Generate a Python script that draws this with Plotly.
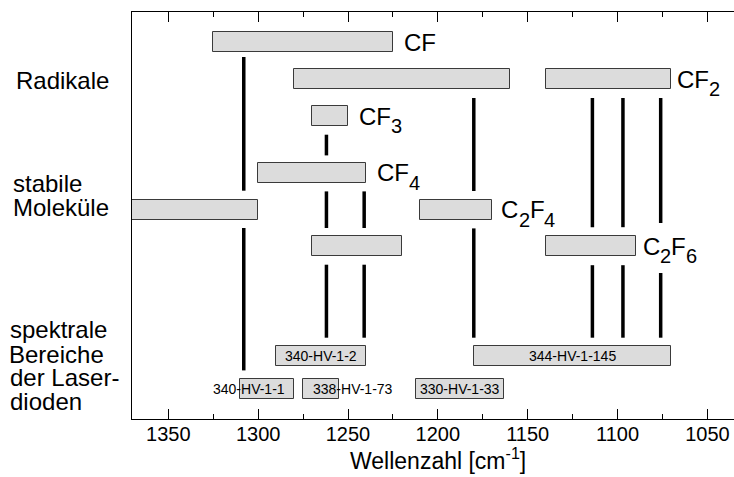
import plotly.graph_objects as go

FONT = "Liberation Sans, Arial, Helvetica, sans-serif"

# ---- data -------------------------------------------------------------
# absorption bands (wavenumber ranges in cm^-1) and the species row they belong to
band_row   = ["CF", "CF2", "CF2", "CF3", "CF4", "C2F4", "C2F4", "C2F6", "C2F6"]
band_start = [1325, 1280, 1140, 1270, 1300, 1372, 1210, 1270, 1140]
band_end   = [1225, 1160, 1070, 1250, 1240, 1300, 1170, 1220, 1090]

# spectral coverage of the laser diodes
laser_names = ["340-HV-1-2", "344-HV-1-145", "340-HV-1-1", "338-HV-1-73", "330-HV-1-33"]
laser_row   = ["laserA", "laserA", "laserB", "laserB", "laserB"]
laser_start = [1290, 1180, 1310, 1275, 1212]
laser_end   = [1240, 1070, 1280, 1255, 1163]

# selected absorption lines (cm^-1)
line_pos = [1308, 1262, 1241, 1180, 1114, 1097, 1076]

# x tick labels
tick_vals = [1350, 1300, 1250, 1200, 1150, 1100, 1050]

# ---- layout helpers ----------------------------------------------------
# vertical track centres (axis units from top of the plot area)
row_y = {"CF": 30.4, "CF2": 67.0, "CF3": 104.0, "CF4": 160.7,
         "C2F4": 197.5, "C2F6": 234.0, "laserA": 344.4, "laserB": 376.8}
BAR_H = 20

# vertical extent of the drawn line segments (gaps around the bands)
line_segments = {
    1308: [(45.0, 178.7), (216.0, 358.4)],
    1262: [(122.7, 143.4), (179.4, 216.0), (252.7, 325.7)],
    1241: [(179.4, 216.0), (252.7, 325.7)],
    1180: [(86.0, 179.0), (216.4, 325.7)],
    1114: [(86.0, 215.2), (253.2, 325.7)],
    1097: [(86.0, 215.2), (253.2, 325.7)],
    1076: [(86.0, 211.0), (261.0, 325.7)],
}

fig = go.Figure()

# species bands
fig.add_trace(go.Bar(
    orientation="h",
    y=[row_y[r] for r in band_row],
    base=band_start,
    x=[e - s for s, e in zip(band_start, band_end)],
    width=[BAR_H] * len(band_row),
    marker=dict(color="#dcdcdc", line=dict(color="#3a3a3a", width=1)),
    showlegend=False, hoverinfo="skip",
))

# laser diode ranges
fig.add_trace(go.Bar(
    orientation="h",
    y=[row_y[r] for r in laser_row],
    base=laser_start,
    x=[e - s for s, e in zip(laser_start, laser_end)],
    width=[BAR_H] * len(laser_row),
    marker=dict(color="#dcdcdc", line=dict(color="#3a3a3a", width=1)),
    showlegend=False, hoverinfo="skip",
))

# absorption lines
lx, ly = [], []
for p in line_pos:
    for y0, y1 in line_segments[p]:
        lx += [p, p, None]
        ly += [y0, y1, None]
fig.add_trace(go.Scatter(x=lx, y=ly, mode="lines",
                         line=dict(color="black", width=3.5),
                         showlegend=False, hoverinfo="skip"))

# ---- species labels with subscripts ------------------------------------
MAIN_SIZE, SUB_SIZE = 24, 20
ADV = {"C": 0.722, "F": 0.611, "2": 0.556, "3": 0.556, "4": 0.556, "6": 0.556}

formulas = [
    ([("CF", False)], "CF", 1225, 10.8),
    ([("CF", False), ("2", True)], "CF2", 1070, 5.5),
    ([("CF", False), ("3", True)], "CF3", 1250, 11.0),
    ([("CF", False), ("4", True)], "CF4", 1240, 11.0),
    ([("C", False), ("2", True), ("F", False), ("4", True)], "C2F4", 1170, 9.5),
    ([("C", False), ("2", True), ("F", False), ("6", True)], "C2F6", 1090, 7.0),
]
for pieces, row, x_end, gap in formulas:
    off = gap
    for txt, sub in pieces:
        size = SUB_SIZE if sub else MAIN_SIZE
        fig.add_annotation(
            x=x_end, y=row_y[row], xref="x", yref="y", text=txt,
            showarrow=False, xanchor="left", yanchor="middle",
            xshift=off, yshift=-10 if sub else 0,
            borderpad=0, borderwidth=0,
            font=dict(family=FONT, size=size, color="black"))
        off += sum(ADV[c] for c in txt) * size

# laser diode names
label_x = [None, None, 1304.9, 1247.0, None]
for name, row, s, e, lxp in zip(laser_names, laser_row, laser_start, laser_end, label_x):
    fig.add_annotation(
        x=(s + e) / 2 if lxp is None else lxp, y=row_y[row],
        xref="x", yref="y", text=name, showarrow=False,
        xanchor="center", yanchor="middle", borderpad=0, borderwidth=0,
        font=dict(family=FONT, size=14, color="black"))

# category captions on the left
PLOT_L, PLOT_W = 132, 602
captions = [
    ("Radikale", 16.0, 68.4),
    ("stabile", 13.5, 171.0),
    ("Moleküle", 13.5, 195.0),
    ("spektrale", 10.0, 317.4),
    ("Bereiche", 9.0, 342.0),
    ("der Laser-", 9.5, 365.8),
    ("dioden", 9.5, 389.8),
]
for txt, px, yv in captions:
    fig.add_annotation(
        x=(px - PLOT_L) / PLOT_W, y=yv, xref="paper", yref="y",
        text=txt, showarrow=False, xanchor="left", yanchor="middle",
        borderpad=0, borderwidth=0,
        font=dict(family=FONT, size=24, color="black"))

# x axis title
fig.add_annotation(
    x=(438 - PLOT_L) / PLOT_W, y=(419 - 474) / 407, xref="paper", yref="paper",
    text="Wellenzahl [cm<sup>-1</sup>]", showarrow=False,
    xanchor="center", yanchor="bottom", borderpad=0, borderwidth=0,
    font=dict(family=FONT, size=23, color="black"))

fig.update_layout(
    width=734, height=477,
    margin=dict(l=132, r=0, t=12, b=58),
    plot_bgcolor="white", paper_bgcolor="white",
    barmode="overlay", bargap=0,
    xaxis=dict(
        range=[1370.2, 1035.2], tickvals=tick_vals,
        ticktext=[str(v) for v in tick_vals],
        ticks="inside", ticklen=10, tickwidth=1, tickcolor="black",
        showline=True, linecolor="black", linewidth=1, mirror="ticks",
        showgrid=False, zeroline=False, ticklabelstandoff=-3,
        tickfont=dict(family=FONT, size=20, color="black"),
        minor=dict(ticks="inside", ticklen=5, tickwidth=1, tickcolor="black",
                   dtick=25, tick0=1025, showgrid=False),
    ),
    yaxis=dict(
        range=[407, 0], showline=True, linecolor="black", linewidth=1,
        mirror=False, ticks="", showticklabels=False,
        showgrid=False, zeroline=False,
    ),
)

fig.write_html("out.html")
